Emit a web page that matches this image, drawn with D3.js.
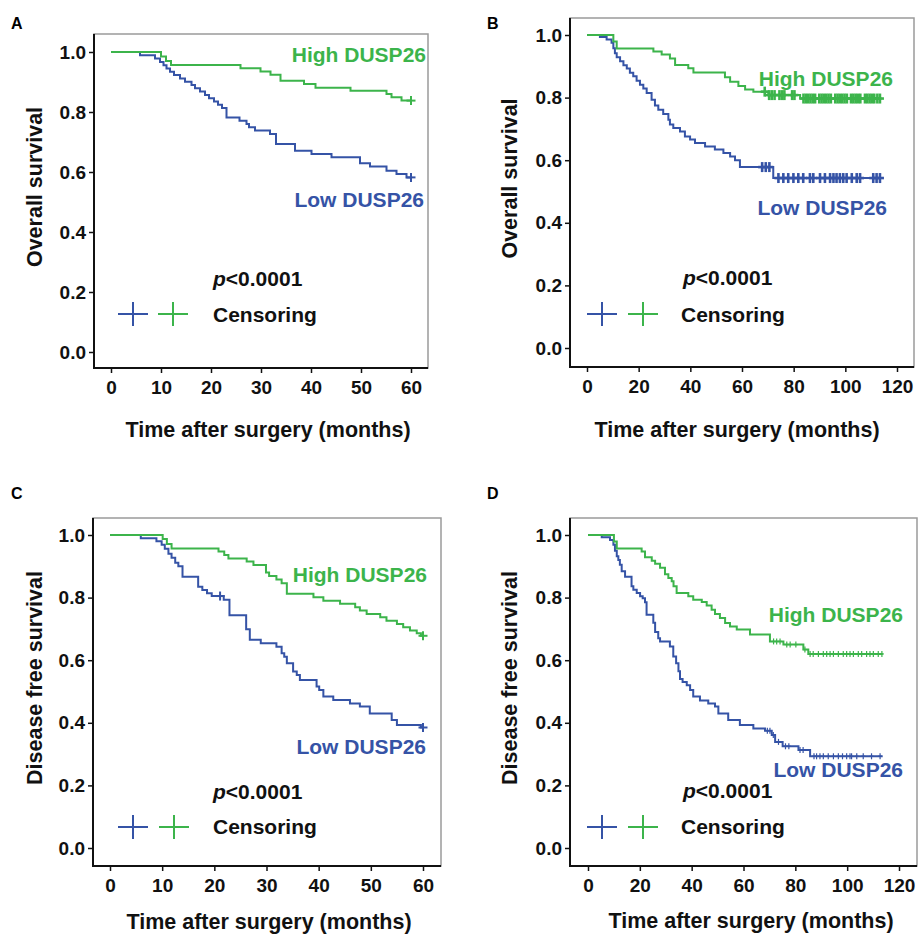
<!DOCTYPE html>
<html>
<head>
<meta charset="utf-8">
<script src="https://cdn.jsdelivr.net/npm/d3@7"></script>
<style>
  body { margin: 0; background: #fff; }
  svg text { font-family: "Liberation Sans", Arial, sans-serif; font-weight: bold; }
</style>
</head>
<body>
<svg id="chart" width="919" height="935"></svg>
<script>
// tick values
var survTicks = [0, 0.2, 0.4, 0.6, 0.8, 1.0];
var monthTicks60 = [0, 10, 20, 30, 40, 50, 60];
var monthTicks120 = [0, 20, 40, 60, 80, 100, 120];

// A: overall survival, 60 months  [month, survival]
var osHighA = [[0,1],[10,0.985],[11,0.97],[12,0.957],[25.9,0.946],[29.9,0.935],[31.9,0.924],[33.9,0.904],
  [38.6,0.893],[40.9,0.881],[47.9,0.871],[55.1,0.86],[56.1,0.849],[58.1,0.838],[60,0.838]];
var osLowA = [[0,1],[5.8,0.989],[8.8,0.978],[9.8,0.967],[10.5,0.956],[11.1,0.945],[11.8,0.934],[12.6,0.923],
  [13.8,0.912],[14.8,0.901],[16.1,0.89],[16.8,0.879],[17.8,0.868],[18.8,0.857],[19.6,0.846],[20.6,0.835],
  [21.4,0.824],[22.2,0.813],[23.1,0.782],[25.7,0.771],[27.1,0.76],[27.6,0.749],[28.8,0.738],[31.8,0.727],
  [33.0,0.693],[36.8,0.671],[40.1,0.66],[44.1,0.649],[49.8,0.629],[51.8,0.618],[55.1,0.604],[57.1,0.593],
  [59.1,0.582],[60,0.582]];
var osHighCensA = [60];
var osLowCensA = [60];

// B: overall survival, full follow-up
var osHighB = [[0,1],[10.2,0.979],[11.5,0.957],[25.7,0.947],[28.9,0.938],[32.1,0.925],[34.1,0.904],[39.2,0.894],
  [41.2,0.88],[53.4,0.865],[55.4,0.851],[58.6,0.837],[61.2,0.826],[64.4,0.819],[70.2,0.808],[82.5,0.797],[113.7,0.797]];
var osLowB = [[0,1],[5,0.994],[7.6,0.986],[9.5,0.975],[10.2,0.958],[10.8,0.942],[11.5,0.929],[12.8,0.916],
  [14.1,0.903],[15.4,0.893],[16.6,0.879],[17.9,0.868],[19.2,0.854],[20.5,0.841],[21.8,0.829],[23.1,0.815],
  [25,0.793],[26.3,0.775],[27.6,0.761],[29.5,0.748],[31.5,0.729],[32.1,0.714],[33.4,0.703],[36,0.692],
  [37.9,0.676],[39.9,0.666],[41.8,0.655],[45.7,0.644],[49.5,0.634],[52.8,0.623],[55.4,0.612],[57.3,0.6],
  [59.2,0.578],[72.1,0.543],[113.7,0.543]];
var osHighCensB = [68.8,70.5,71.5,72.6,74.5,75.5,76.4,79.4,80.3,83.8,84.7,85.6,86.5,87.4,88.3,89.9,90.8,91.7,
  92.6,93.5,94.4,96.1,97,97.9,98.8,99.7,100.6,102.2,103.1,104,104.9,105.8,107.6,108.5,109.4,110.3,111.2,112.4,113.4];
var osLowCensB = [67.8,69.2,70.6,74.1,76,77.9,79.9,81.8,83.7,86.3,87.6,90.2,92.1,94.1,95.4,96.6,97.9,99.2,
  100.5,102.5,104.4,105.7,110.8,112.1,113.4];

// C: disease free survival, 60 months
var dfsHighC = [[0,1],[10.1,0.987],[10.9,0.971],[11.8,0.957],[20.8,0.947],[21.9,0.936],[22.7,0.925],[26.2,0.915],
  [27.5,0.904],[29.9,0.88],[30.5,0.869],[31.9,0.858],[32.9,0.846],[33.9,0.812],[39,0.801],[40.9,0.79],[44.1,0.78],
  [47,0.769],[47.9,0.759],[49.2,0.748],[51.8,0.737],[53,0.726],[55,0.716],[56.2,0.705],[57.5,0.695],[58.8,0.686],
  [59.6,0.678],[60,0.678]];
var dfsLowC = [[0,1],[5.9,0.99],[8.9,0.98],[9.9,0.969],[10.5,0.956],[11.2,0.94],[11.8,0.927],[12.5,0.911],
  [13.1,0.9],[13.9,0.867],[16.9,0.835],[17.7,0.824],[18.6,0.814],[19.5,0.805],[21.8,0.793],[22.9,0.744],
  [26.1,0.699],[26.8,0.665],[28.9,0.654],[31.9,0.643],[32.9,0.622],[33.4,0.611],[33.9,0.59],[35.1,0.564],
  [35.8,0.553],[36.4,0.537],[39.6,0.516],[40.1,0.505],[40.9,0.484],[42.8,0.473],[46,0.462],[47.9,0.452],
  [49.8,0.43],[54,0.409],[55,0.393],[59.6,0.385],[60,0.385]];
var dfsHighCensC = [60];
var dfsLowCensC = [21.1, 60];

// D: disease free survival, full follow-up
var dfsHighD = [[0,1],[10,0.979],[11.1,0.957],[20.7,0.947],[22,0.929],[24.6,0.918],[25.9,0.908],[27.8,0.895],
  [29.7,0.875],[31,0.863],[32.3,0.852],[33,0.836],[34.2,0.815],[38.7,0.804],[40.6,0.793],[43.9,0.786],[45.8,0.775],
  [47.7,0.761],[49,0.748],[50.9,0.735],[52.9,0.719],[54.8,0.708],[57.4,0.698],[62.5,0.682],[70.2,0.66],
  [75.4,0.65],[83.1,0.634],[85,0.62],[113.7,0.62]];
var dfsLowD = [[0,1],[5.3,0.993],[8.5,0.984],[9.8,0.969],[10.4,0.95],[11.1,0.932],[11.7,0.92],[12.3,0.905],
  [13,0.884],[14.3,0.867],[16.8,0.836],[17.5,0.825],[18.8,0.815],[20.1,0.804],[21.1,0.798],[22,0.785],
  [22.6,0.745],[25.2,0.72],[25.9,0.69],[27.1,0.67],[27.8,0.66],[31.6,0.644],[32.9,0.612],[34,0.59],
  [34.9,0.565],[35.5,0.54],[36.5,0.53],[38.1,0.52],[39.4,0.505],[40.6,0.484],[43.2,0.471],[46.4,0.462],
  [49,0.452],[50.3,0.43],[54.1,0.409],[58.6,0.393],[63.8,0.382],[68.3,0.375],[70.9,0.361],[72.2,0.339],
  [75.1,0.325],[81.2,0.313],[85.7,0.293],[113.7,0.293]];
var dfsHighCensD = [71.6,72.8,74.1,76.7,78,80.2,83.7,85.7,86.9,88.9,90.8,92.1,93.4,94.7,96.6,98.5,99.8,
  101.1,102.4,104.3,105.6,107.5,108.8,110.1,112,113.4];
var dfsLowCensD = [69.2,70.2,71.5,73.5,76.2,77.5,81.8,83,87.2,88.2,89.5,90.8,92.7,94.7,96.6,98.2,99.8,
  101.1,101.7,103.7,106.2,109.4,112.7];

var highColor = "#3cb44b";
var lowColor = "#3553a6";

// layout of the four panels
var panels = [
  { letter: "A", box: [94, 34, 428, 368], xr: [111, 411], yr: [352, 52], xMax: 60, xTicks: monthTicks60,
    yTitle: "Overall survival", high: osHighA, low: osLowA, highCens: osHighCensA, lowCens: osLowCensA,
    mark: "end", letterPos: [11, 29], yTitleX: 42, xTitleX: 268, xTitleY: 437,
    highPos: [426, 62], lowPos: [424, 207], pPos: [213, 286], legX: [133, 173], legY: 314, censPos: [213, 322] },
  { letter: "B", box: [570, 18, 914, 367], xr: [587, 897], yr: [348, 35], xMax: 120, xTicks: monthTicks120,
    yTitle: "Overall survival", high: osHighB, low: osLowB, highCens: osHighCensB, lowCens: osLowCensB,
    mark: "big", letterPos: [487, 29], yTitleX: 517, xTitleX: 737, xTitleY: 437,
    highPos: [893, 86], lowPos: [887, 215], pPos: [683, 285], legX: [602, 643], legY: 314, censPos: [681, 322] },
  { letter: "C", box: [93, 518, 441, 866], xr: [110, 423], yr: [848, 535], xMax: 60, xTicks: monthTicks60,
    yTitle: "Disease free survival", high: dfsHighC, low: dfsLowC, highCens: dfsHighCensC, lowCens: dfsLowCensC,
    mark: "end", letterPos: [11, 499], yTitleX: 42, xTitleX: 269, xTitleY: 929,
    highPos: [427, 582], lowPos: [426, 754], pPos: [213, 799], legX: [133, 174], legY: 827, censPos: [213, 834] },
  { letter: "D", box: [570, 518, 917, 866], xr: [588, 899], yr: [848, 535], xMax: 120, xTicks: monthTicks120,
    yTitle: "Disease free survival", high: dfsHighD, low: dfsLowD, highCens: dfsHighCensD, lowCens: dfsLowCensD,
    mark: "small", letterPos: [487, 499], yTitleX: 517, xTitleX: 751, xTitleY: 928,
    highPos: [903, 622], lowPos: [903, 777], pPos: [683, 798], legX: [602, 643], legY: 827, censPos: [681, 834] }
];

var svg = d3.select("#chart");

// survival value at time t for a step curve
function survAt(curve, t) {
  var v = curve[0][1];
  curve.forEach(function(p) { if (p[0] <= t) v = p[1]; });
  return v;
}

function drawCensors(g, curve, times, x, y, color, mark) {
  var hw = mark === "big" ? 4 : (mark === "small" ? 2 : 4.5);
  var hh = mark === "big" ? 5 : (mark === "small" ? 3 : 4.5);
  var sw = mark === "big" ? 2.6 : (mark === "small" ? 1.2 : 2);
  var c = g.append("g").selectAll("g")
    .data(times)
    .enter().append("g")
      .attr("transform", function(t) { return "translate(" + x(t) + "," + y(survAt(curve, t)) + ")"; });
  c.append("line").attr("x1", -hw).attr("x2", hw)
    .attr("stroke", color).attr("stroke-width", sw);
  c.append("line").attr("y1", -hh).attr("y2", hh)
    .attr("stroke", color).attr("stroke-width", sw);
}

function legendCross(g, cx, cy, color) {
  g.append("line").attr("x1", cx - 15).attr("x2", cx + 15).attr("y1", cy).attr("y2", cy)
    .attr("stroke", color).attr("stroke-width", 2);
  g.append("line").attr("x1", cx).attr("x2", cx).attr("y1", cy - 12).attr("y2", cy + 12)
    .attr("stroke", color).attr("stroke-width", 2);
}

panels.forEach(function(p) {
  var g = svg.append("g");
  var x = d3.scaleLinear().domain([0, p.xMax]).range(p.xr);
  var y = d3.scaleLinear().domain([0, 1]).range(p.yr);
  var b = p.box;

  // frame: light top/right, black axes
  g.append("rect")
    .attr("x", b[0]).attr("y", b[1]).attr("width", b[2] - b[0]).attr("height", b[3] - b[1])
    .attr("fill", "none").attr("stroke", "#9a9a9a").attr("stroke-width", 1.5);

  var yAxis = g.append("g")
    .attr("transform", "translate(" + b[0] + ",0)")
    .call(d3.axisLeft(y).tickValues(survTicks).tickFormat(d3.format(".1f")).tickSize(5).tickPadding(3));
  var xAxis = g.append("g")
    .attr("transform", "translate(0," + b[3] + ")")
    .call(d3.axisBottom(x).tickValues(p.xTicks).tickSize(5).tickPadding(8));
  [yAxis, xAxis].forEach(function(a) {
    a.select(".domain").remove();
    a.selectAll(".tick line").attr("stroke", "#111").attr("stroke-width", 1.5);
    a.selectAll(".tick text").attr("fill", "#111").style("font-size", "19px")
      .style("font-family", "'Liberation Sans', Arial, sans-serif").style("font-weight", "bold");
  });

  g.append("line").attr("x1", b[0]).attr("x2", b[0]).attr("y1", b[1]).attr("y2", b[3] + 1)
    .attr("stroke", "#111").attr("stroke-width", 2);
  g.append("line").attr("x1", b[0] - 1).attr("x2", b[2]).attr("y1", b[3]).attr("y2", b[3])
    .attr("stroke", "#111").attr("stroke-width", 2);

  // survival curves
  var line = d3.line()
    .x(function(d) { return x(d[0]); })
    .y(function(d) { return y(d[1]); })
    .curve(d3.curveStepAfter);

  g.append("path").datum(p.low)
    .attr("d", line).attr("fill", "none").attr("stroke", lowColor).attr("stroke-width", 2);
  drawCensors(g, p.low, p.lowCens, x, y, lowColor, p.mark);
  g.append("path").datum(p.high)
    .attr("d", line).attr("fill", "none").attr("stroke", highColor).attr("stroke-width", 2);
  drawCensors(g, p.high, p.highCens, x, y, highColor, p.mark);

  // texts
  g.append("text").attr("x", p.letterPos[0]).attr("y", p.letterPos[1])
    .style("font-size", "16px").attr("fill", "#000").text(p.letter);

  g.append("text")
    .attr("transform", "translate(" + p.yTitleX + "," + ((b[1] + b[3]) / 2 - 14) + ") rotate(-90)")
    .attr("text-anchor", "middle").style("font-size", "21.5px").attr("fill", "#111")
    .text(p.yTitle);

  g.append("text").attr("x", p.xTitleX).attr("y", p.xTitleY)
    .attr("text-anchor", "middle").style("font-size", "21.5px").attr("fill", "#111")
    .text("Time after surgery (months)");

  g.append("text").attr("x", p.highPos[0]).attr("y", p.highPos[1])
    .attr("text-anchor", "end").style("font-size", "21px").attr("fill", highColor)
    .text("High DUSP26");
  g.append("text").attr("x", p.lowPos[0]).attr("y", p.lowPos[1])
    .attr("text-anchor", "end").style("font-size", "21px").attr("fill", lowColor)
    .text("Low DUSP26");

  var pt = g.append("text").attr("x", p.pPos[0]).attr("y", p.pPos[1])
    .style("font-size", "21px").attr("fill", "#111");
  pt.append("tspan").style("font-style", "italic").text("p");
  pt.append("tspan").text("<0.0001");

  legendCross(g, p.legX[0], p.legY, lowColor);
  legendCross(g, p.legX[1], p.legY, highColor);
  g.append("text").attr("x", p.censPos[0]).attr("y", p.censPos[1])
    .style("font-size", "21px").attr("fill", "#111").text("Censoring");
});
</script>
</body>
</html>
